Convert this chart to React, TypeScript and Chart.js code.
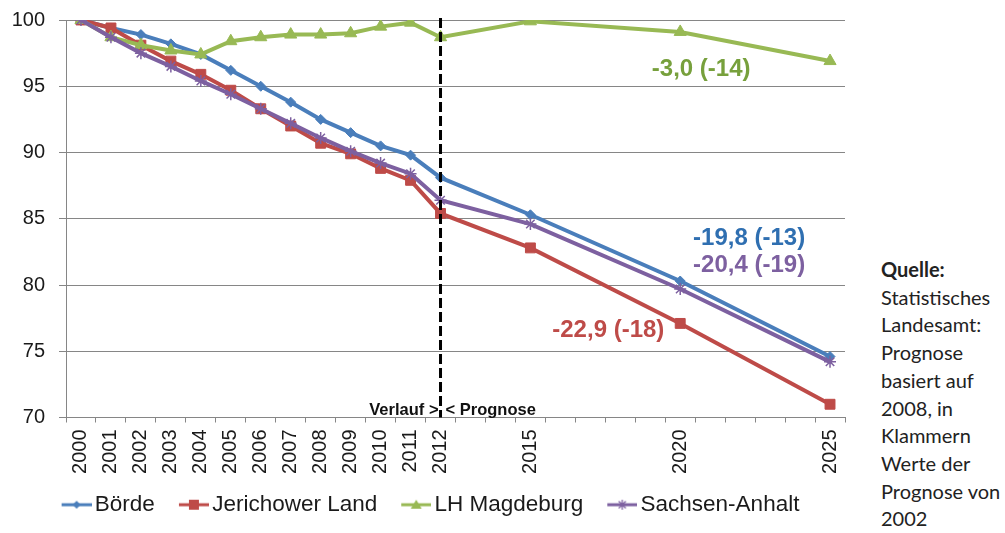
import React, { useEffect, useRef } from 'react';
import { Chart, registerables } from 'chart.js';

Chart.register(...registerables);

const FONT = "'Liberation Sans', Arial, sans-serif";

const years = [2000, 2001, 2002, 2003, 2004, 2005, 2006, 2007, 2008, 2009, 2010, 2011, 2012, 2015, 2020, 2025];
const boerde = [100, 99.4, 98.9, 98.2, 97.4, 96.2, 95.0, 93.8, 92.5, 91.5, 90.5, 89.8, 88.1, 85.3, 80.3, 74.6];
const jerichowerLand = [100, 99.4, 98.1, 96.9, 95.9, 94.7, 93.3, 92.0, 90.7, 89.9, 88.8, 87.9, 85.4, 82.8, 77.1, 71.0];
const lhMagdeburg = [100, 98.7, 98.1, 97.7, 97.4, 98.4, 98.7, 98.9, 98.9, 99.0, 99.5, 99.8, 98.7, 99.9, 99.1, 96.9];
const sachsenAnhalt = [100, 98.7, 97.5, 96.5, 95.4, 94.4, 93.3, 92.2, 91.1, 90.1, 89.2, 88.4, 86.4, 84.6, 79.7, 74.2];

const seriesNames = ['Börde', 'Jerichower Land', 'LH Magdeburg', 'Sachsen-Anhalt'];
const seriesColors = ['#4A7EBB', '#BE4B48', '#98B954', '#7D60A0'];
const seriesMarkers = ['rectRot', 'rect', 'triangle', 'star'];
const markerRadius = [5, 7, 7, 6];

const yMin = 70;
const yMax = 100;
const yStep = 5;
const xMin = 1999.5;
const xMax = 2025.5;

const annoTexts = ['-3,0 (-14)', '-19,8 (-13)', '-20,4 (-19)', '-22,9 (-18)'];
const annoYears = [2020.7, 2022.3, 2022.3, 2017.6];
const annoValues = [96.3, 83.5, 81.5, 76.6];
const annoColors = ['#77A03C', '#2F6FB1', '#7D60A0', '#BE4B48'];

const splitYear = 2012;
const splitLabels = ['Verlauf >', '< Prognose'];

const quelleTitle = 'Quelle:';
const quelleLines = ['Statistisches', 'Landesamt:', 'Prognose', 'basiert auf', '2008, in', 'Klammern', 'Werte der', 'Prognose von', '2002'];

function makeLegendImage(color: string, marker: string): HTMLCanvasElement {
  const c = document.createElement('canvas');
  c.width = 44;
  c.height = 16;
  const g = c.getContext('2d')!;
  const cy = 8;
  g.strokeStyle = color;
  g.lineWidth = 3;
  g.beginPath();
  g.moveTo(14, cy);
  g.lineTo(44, cy);
  g.stroke();
  const cx = 29;
  g.fillStyle = color;
  g.strokeStyle = color;
  g.beginPath();
  if (marker === 'rectRot') {
    g.moveTo(cx - 4, cy); g.lineTo(cx, cy - 4); g.lineTo(cx + 4, cy); g.lineTo(cx, cy + 4); g.closePath(); g.fill();
  } else if (marker === 'rect') {
    g.rect(cx - 5, cy - 5, 10, 10); g.fill();
  } else if (marker === 'triangle') {
    g.moveTo(cx - 5.5, cy + 4); g.lineTo(cx, cy - 5); g.lineTo(cx + 5.5, cy + 4); g.closePath(); g.fill();
  } else {
    g.lineWidth = 1.3;
    g.moveTo(cx - 5, cy); g.lineTo(cx + 5, cy);
    g.moveTo(cx, cy - 5); g.lineTo(cx, cy + 5);
    g.moveTo(cx - 3.5, cy - 3.5); g.lineTo(cx + 3.5, cy + 3.5);
    g.moveTo(cx - 3.5, cy + 3.5); g.lineTo(cx + 3.5, cy - 3.5);
    g.stroke();
  }
  return c;
}

const overlayPlugin = {
  id: 'overlay',
  afterDatasetsDraw(chart: any) {
    const { ctx, chartArea, scales } = chart;
    const x = scales.x;
    const y = scales.y;
    const px = x.getPixelForValue(splitYear);
    ctx.save();
    ctx.strokeStyle = '#000';
    ctx.lineWidth = 3;
    ctx.setLineDash([10, 4]);
    ctx.beginPath();
    ctx.moveTo(px, chartArea.top - 2);
    ctx.lineTo(px, chartArea.bottom);
    ctx.stroke();
    ctx.setLineDash([]);

    ctx.font = `bold 16.5px ${FONT}`;
    ctx.fillStyle = '#111';
    ctx.textBaseline = 'alphabetic';
    ctx.textAlign = 'right';
    ctx.fillText(splitLabels[0], px - 2, chartArea.bottom - 3);
    ctx.textAlign = 'left';
    ctx.fillText(splitLabels[1], px + 5, chartArea.bottom - 3);

    ctx.font = `bold 24px ${FONT}`;
    ctx.textAlign = 'center';
    ctx.textBaseline = 'middle';
    for (let i = 0; i < annoTexts.length; i++) {
      ctx.fillStyle = annoColors[i];
      ctx.fillText(annoTexts[i], x.getPixelForValue(annoYears[i]), y.getPixelForValue(annoValues[i]));
    }
    ctx.restore();
  },
};

export default function App() {
  const ref = useRef<HTMLCanvasElement | null>(null);

  useEffect(() => {
    if (!ref.current) return;
    const seriesValues = [boerde, jerichowerLand, lhMagdeburg, sachsenAnhalt];
    const legendImages = seriesColors.map((c, i) => makeLegendImage(c, seriesMarkers[i]));
    const halfYears: number[] = [];
    for (let v = xMin; v <= xMax + 0.001; v += 1) halfYears.push(v);
    const tickValues = [...halfYears, ...years].sort((a, b) => a - b);

    const datasets = seriesNames.map((name, i) => ({
      label: name,
      data: years.map((yr, j) => ({ x: yr, y: seriesValues[i][j] })),
      borderColor: seriesColors[i],
      backgroundColor: seriesColors[i],
      borderWidth: 4,
      pointStyle: seriesMarkers[i],
      pointRadius: markerRadius[i],
      pointBorderWidth: seriesMarkers[i] === 'star' ? 1.5 : 1,
      pointBorderColor: seriesColors[i],
      pointBackgroundColor: seriesColors[i],
      tension: 0,
      order: 3 - i,
    }));

    const chart = new Chart(ref.current, {
      type: 'line',
      data: { datasets },
      plugins: [overlayPlugin],
      options: {
        responsive: false,
        animation: false,
        layout: { padding: { left: 10, right: 15, top: 20, bottom: 7 } },
        plugins: {
          tooltip: { enabled: false },
          legend: {
            position: 'bottom',
            labels: {
              usePointStyle: true,
              pointStyleWidth: 28,
              padding: 18,
              color: '#1a1a1a',
              font: { size: 22.5, family: FONT },
              generateLabels: (ch: any) =>
                ch.data.datasets.map((ds: any, i: number) => ({
                  text: ds.label,
                  pointStyle: legendImages[i],
                  fillStyle: 'rgba(0,0,0,0)',
                  strokeStyle: 'rgba(0,0,0,0)',
                  lineWidth: 0,
                  hidden: false,
                  datasetIndex: i,
                  fontColor: '#1a1a1a',
                })),
            },
          },
        },
        scales: {
          x: {
            type: 'linear',
            min: xMin,
            max: xMax,
            afterBuildTicks: (scale: any) => {
              scale.ticks = tickValues.map((v) => ({ value: v }));
            },
            afterFit: (scale: any) => {
              scale.height = 58;
              scale.paddingLeft = 0;
              scale.paddingRight = 0;
            },
            ticks: {
              autoSkip: false,
              minRotation: 90,
              maxRotation: 90,
              padding: 7,
              color: '#1a1a1a',
              font: { size: 20, family: FONT },
              callback: (v: any) => (years.includes(v) ? String(v) : ''),
            },
            grid: {
              drawOnChartArea: false,
              tickLength: 5,
              lineWidth: 1,
              tickColor: (c: any) => (c.tick && Number.isInteger(c.tick.value) ? 'rgba(0,0,0,0)' : '#868686'),
            },
            border: { color: '#868686', width: 1 },
          },
          y: {
            min: yMin,
            max: yMax,
            afterFit: (scale: any) => {
              scale.width = 56;
              scale.paddingTop = 0;
              scale.paddingBottom = 0;
            },
            ticks: {
              stepSize: yStep,
              padding: 14,
              color: '#1a1a1a',
              font: { size: 20, family: FONT },
            },
            grid: { color: '#868686', tickLength: 7, lineWidth: 1 },
            border: { color: '#868686', width: 1 },
          },
        },
      },
    });
    return () => chart.destroy();
  }, []);

  return (
    <div style={{ position: 'absolute', left: 0, top: 0, width: 1005, height: 533, background: '#fff' }}>
      <canvas ref={ref} width={860} height={533} style={{ position: 'absolute', left: 0, top: 0, display: 'block' }} />
      <div
        style={{
          position: 'absolute',
          left: 881,
          top: 256,
          fontFamily: 'Lato, sans-serif',
          fontSize: 20,
          lineHeight: '27.7px',
          color: '#222',
          whiteSpace: 'nowrap',
        }}
      >
        <div style={{ fontWeight: 'bold' }}>{quelleTitle}</div>
        {quelleLines.map((l, i) => (
          <div key={i}>{l}</div>
        ))}
      </div>
    </div>
  );
}
